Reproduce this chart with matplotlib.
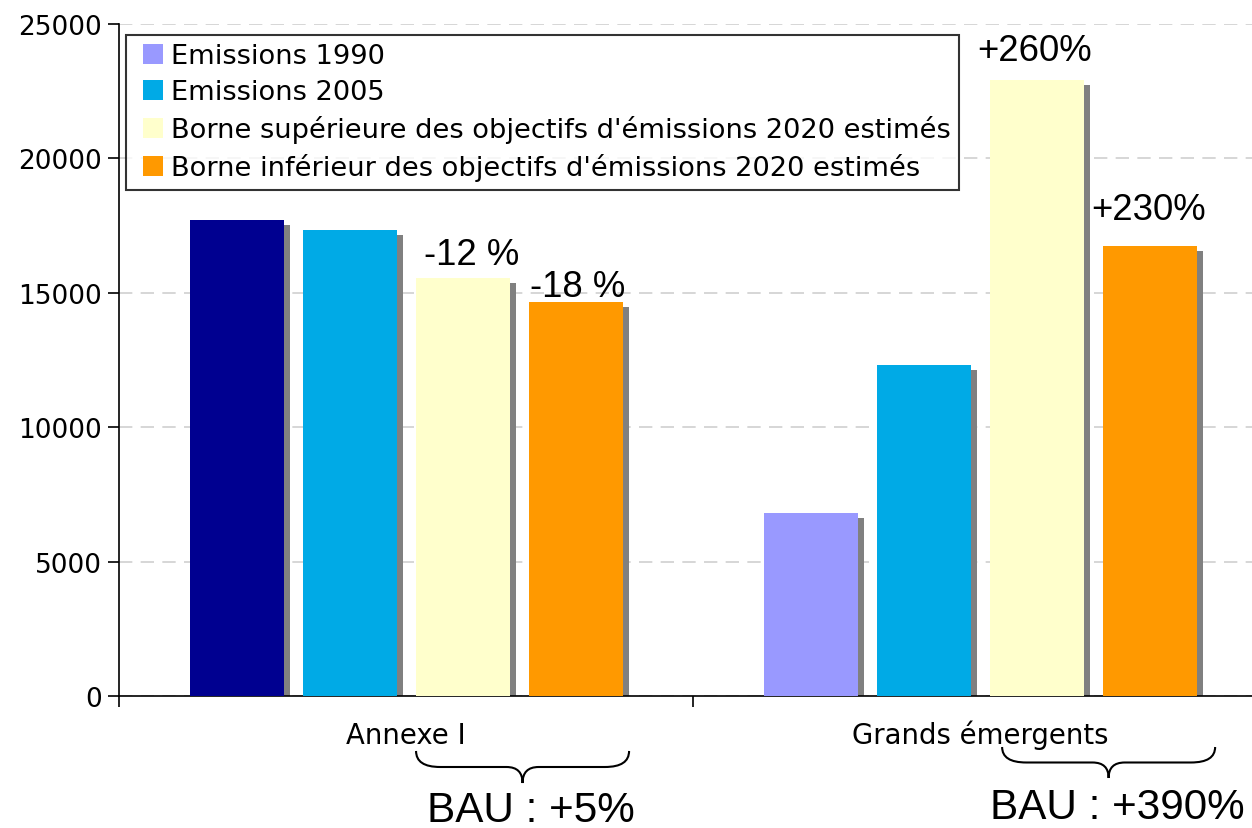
import matplotlib
matplotlib.use("Agg")
import matplotlib.pyplot as plt
import matplotlib.transforms as mtransforms
from matplotlib.path import Path
from matplotlib.patches import PathPatch, Patch, Rectangle
from matplotlib.legend_handler import HandlerPatch
import numpy as np

plt.rcParams.update({'font.family': 'DejaVu Sans', 'font.size': 19})

categories = ["Annexe I", "Grands émergents"]
series = ["Emissions 1990", "Emissions 2005",
          "Borne supérieure des objectifs d'émissions 2020 estimés",
          "Borne inférieur des objectifs d'émissions 2020 estimés"]
em_1990 = [17700, 6800]
em_2005 = [17340, 12300]
borne_sup = [15550, 22900]
borne_inf = [14650, 16750]
pct_sup = ["-12 %", "+260%"]
pct_inf = ["-18 %", "+230%"]
bau = ["BAU : +5%", "BAU : +390%"]

colors = ['#9999FF', '#00AAE6', '#FFFFCC', '#FF9900']
first_bar_override = '#000090'   # Annexe I 1990 bar is navy in the original
shadow = '#808080'

fig = plt.figure(figsize=(12.52, 8.29), dpi=100)
ax = fig.add_axes([119/1252, 132/829, 1133/1252, 672/829])

values = [em_1990, em_2005, borne_sup, borne_inf]
w = 0.1638
step = 0.1969
start = 0.1237
shad_dx = 6 / 574
shad = mtransforms.offset_copy(ax.transData, fig=fig, x=6, y=-5, units='dots')

lefts = {}
for s, vals in enumerate(values):
    for c, v in enumerate(vals):
        x0 = c + start + s * step
        lefts[(s, c)] = x0
        ax.bar(x0, v, width=w, align='edge', color=shadow, transform=shad, zorder=2)
        col = colors[s]
        if s == 0 and c == 0:
            col = first_bar_override
        ax.bar(x0, v, width=w, align='edge', color=col, zorder=3)

# percentage labels above the 2020 bars (hand placed in the original)
label_off = {(2, 0): (9, 14), (3, 0): (2, 6), (2, 1): (-2, 20), (3, 1): (-2, 27)}
for c in range(2):
    for s, labels in ((2, pct_sup), (3, pct_inf)):
        dx, dy = label_off[(s, c)]
        ax.annotate(labels[c], (lefts[(s, c)] + w / 2, values[s][c]),
                    xytext=(dx, dy), textcoords='offset pixels', ha='center',
                    va='baseline', fontsize=26.3, family='Liberation Sans', zorder=5)

ax.set_xticks([0, 1])
ax.set_xticklabels([])
ax.set_xlim(0, 1133/574)
ax.set_ylim(0, 25000)
ax.set_yticks(np.arange(0, 25001, 5000))
ax.tick_params(axis='both', direction='out', length=8, width=1.2, colors='black')
ax.tick_params(axis='y', pad=4)
for sp in ('top', 'right'):
    ax.spines[sp].set_visible(False)
for sp in ('left', 'bottom'):
    ax.spines[sp].set_linewidth(1.2)
ax.yaxis.grid(True, color='#cfcfcf', linestyle=(0, (8, 5)), linewidth=1.2, zorder=0)
ax.set_axisbelow(True)

trans = mtransforms.blended_transform_factory(ax.transData, ax.transAxes)
for c, name in enumerate(categories):
    ax.text(c + 0.5, -0.0699, name, transform=trans, ha='center', va='baseline',
            fontsize=19.8)


def brace(x0, x1, ytop, ybot, r_end=0.042, r_mid=0.028):
    xm = (x0 + x1) / 2
    ymid = (ytop + ybot) / 2
    verts = [(x0, ytop), (x0, ymid), (x0 + r_end, ymid),
             (xm - r_mid, ymid), (xm, ymid), (xm, ybot),
             (xm, ymid), (xm + r_mid, ymid),
             (x1 - r_end, ymid), (x1, ymid), (x1, ytop)]
    codes = [Path.MOVETO, Path.CURVE3, Path.CURVE3,
             Path.LINETO, Path.CURVE3, Path.CURVE3,
             Path.CURVE3, Path.CURVE3,
             Path.LINETO, Path.CURVE3, Path.CURVE3]
    return Path(verts, codes)


brace_y = [(-0.0818, -0.1295), (-0.0759, -0.1220)]
brace_shift = [0.0, 0.021]
bau_y = [-0.1865, -0.1810]
for c in range(2):
    x0 = lefts[(2, c)] + brace_shift[c]
    x1 = lefts[(3, c)] + w + shad_dx + brace_shift[c]
    ax.add_patch(PathPatch(brace(x0, x1, *brace_y[c]), transform=trans, fill=False,
                           lw=1.5, ec='black', clip_on=False))
    ax.text((x0 + x1) / 2 + 0.015, bau_y[c], bau[c], transform=trans, ha='center',
            va='baseline', fontsize=30.4, family='Liberation Sans')


def square(legend, orig_handle, xdescent, ydescent, width, height, fontsize):
    return Rectangle((-xdescent + width - height, -ydescent), height, height)


handles = [Patch(facecolor=col, edgecolor='none') for col in colors]
leg = ax.legend(handles, series, loc='upper left', bbox_to_anchor=(0.0062, 0.9836),
                fontsize=19.6, frameon=True, fancybox=False, edgecolor='black',
                handlelength=1.05, handleheight=0.74, handletextpad=0.3,
                labelspacing=0.37, borderpad=0.3, borderaxespad=0,
                handler_map={Patch: HandlerPatch(patch_func=square)})
leg.get_frame().set_linewidth(1.5)
leg.set_zorder(10)

fig.savefig("out.png", dpi=100)
